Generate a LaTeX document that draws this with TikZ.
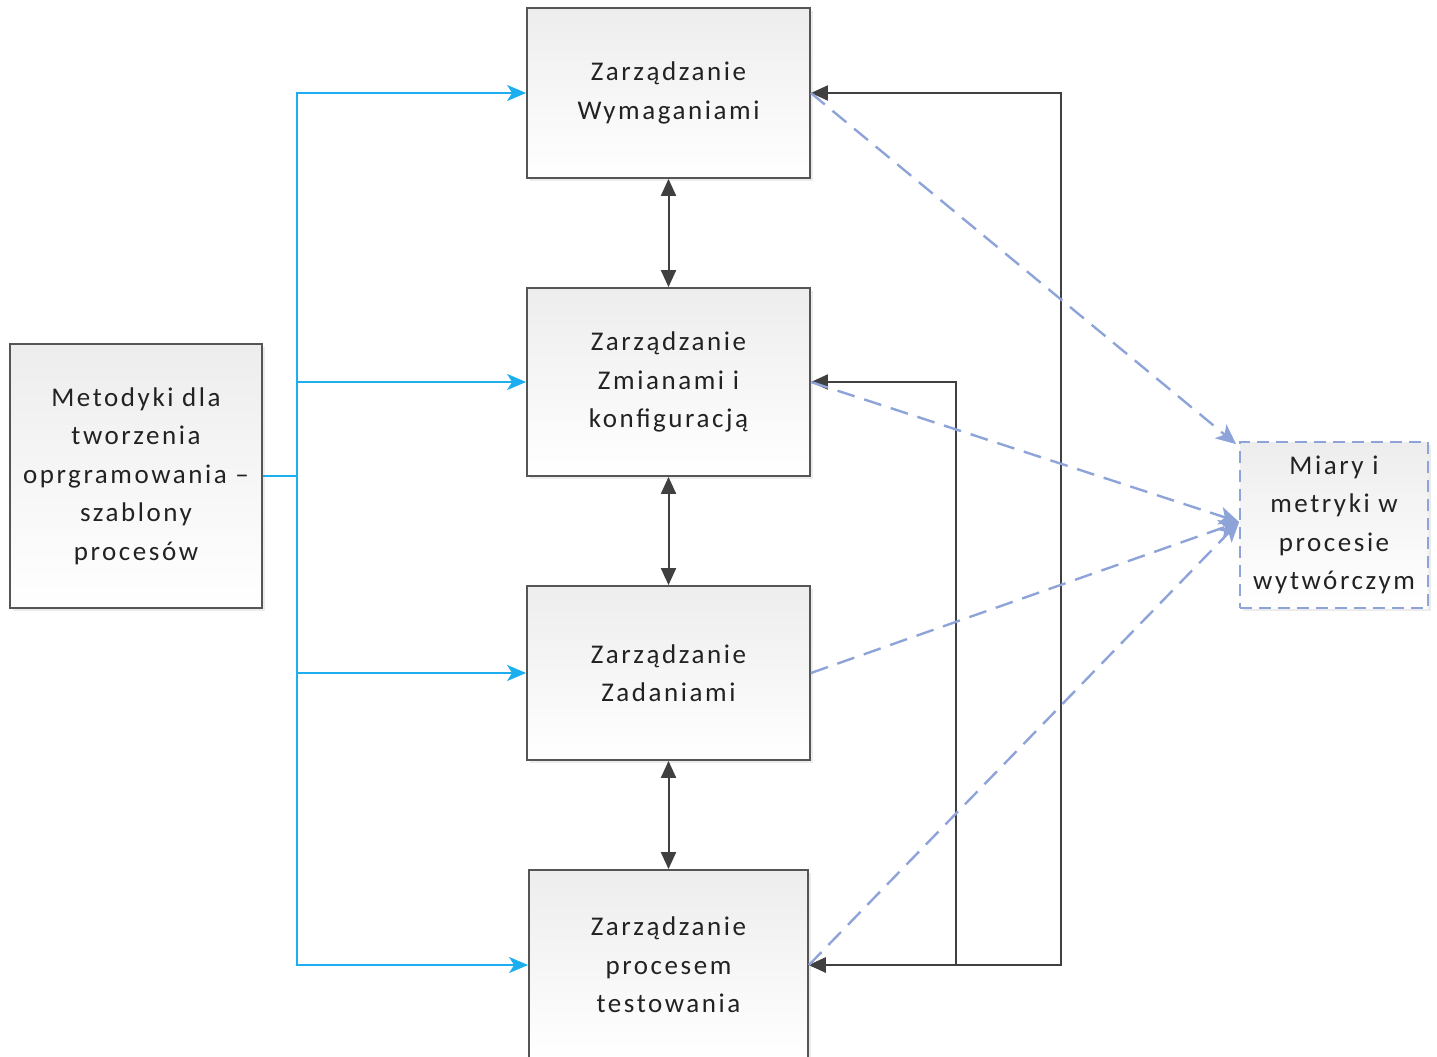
\documentclass[tikz,border=0pt]{standalone}
\usepackage{fontspec}
\setmainfont{Carlito}[LetterSpace=9.5]
\usetikzlibrary{arrows.meta,shadows}
\definecolor{cyanline}{HTML}{1CAEEE}
\definecolor{dashblue}{HTML}{8EA3D8}
\definecolor{darkline}{HTML}{404040}
\definecolor{boxborder}{HTML}{555555}
\definecolor{boxtop}{HTML}{EDEDED}
\definecolor{txt}{HTML}{222222}
\begin{document}
\begin{tikzpicture}[x=1pt,y=-1pt,
  box/.style={draw=boxborder, line width=1.8pt, top color=boxtop, bottom color=white,
    align=center, inner sep=0pt, text=txt, font=\fontsize{27}{38.5}\selectfont,
    drop shadow={shadow xshift=3pt, shadow yshift=-3pt, opacity=0.15}},
  mbox/.style={draw=dashblue, line width=1.8pt, dash pattern=on 12pt off 7pt, top color=boxtop, bottom color=white,
    align=center, inner sep=0pt, text=txt, font=\fontsize{27}{38.5}\selectfont,
    drop shadow={shadow xshift=3pt, shadow yshift=-3pt, opacity=0.15}},
  feed/.style={draw=cyanline, line width=2pt},
  feedarrow/.style={feed, -{Stealth[length=19pt,width=16pt,inset=5pt]}},
  link/.style={draw=darkline, line width=2pt, {Triangle[length=17pt,width=15pt]}-{Triangle[length=17pt,width=15pt]}},
  measure/.style={draw=dashblue, line width=2.4pt, dash pattern=on 18pt off 10pt,
    -{Stealth[length=20pt,width=18pt,inset=5pt]}}]
\useasboundingbox (0,0) rectangle (1437,1057);

\node[box, minimum width=283pt, minimum height=170pt] (t1) at (668.5,93) {Zarządzanie\\Wymaganiami};
\node[box, minimum width=283pt, minimum height=188pt] (t2) at (668.5,382) {Zarządzanie\\Zmianami i\\konfiguracją};
\node[box, minimum width=283pt, minimum height=174pt] (t3) at (668.5,673) {Zarządzanie\\Zadaniami};
\node[box, minimum width=279pt, minimum height=190pt] (t4) at (668.5,965) {Zarządzanie\\procesem\\testowania};
\node[box, minimum width=252pt, minimum height=264pt] (meth) at (136,476) {Metodyki dla\\tworzenia\\oprgramowania –\\szablony\\procesów};
\node[mbox, minimum width=188pt, minimum height=166pt] (miary) at (1334,525) {Miary i\\metryki w\\procesie\\wytwórczym};

% blue feed lines
\coordinate (bus) at (297,476);
\draw[feed] (meth.east) -- (bus);
\draw[feedarrow] (bus) |- (t1.west);
\draw[feedarrow] (bus) |- (t2.west);
\draw[feedarrow] (bus) |- (t3.west);
\draw[feedarrow] (bus) |- (t4.west);

% vertical links
\draw[link] (t1.south) -- (t2.north);
\draw[link] (t2.south) -- (t3.north);
\draw[link] (t3.south) -- (t4.north);

% feedback loops
\coordinate (loopA) at (1061,93);
\coordinate (loopB) at (956,382);
\draw[link] (t1.east) -- (loopA) |- (t4.east);
\draw[link] (t2.east) -- (loopB) |- (t4.east);

% measurement dashed lines
\draw[measure] (t1.east) -- ([xshift=-3pt,yshift=-3pt]miary.north west);
\draw[measure] (t2.east) -- ([yshift=3pt]miary.west);
\draw[measure] (t3.east) -- ([yshift=3pt]miary.west);
\draw[measure] (t4.east) -- ([yshift=3pt]miary.west);
\end{tikzpicture}
\end{document}
